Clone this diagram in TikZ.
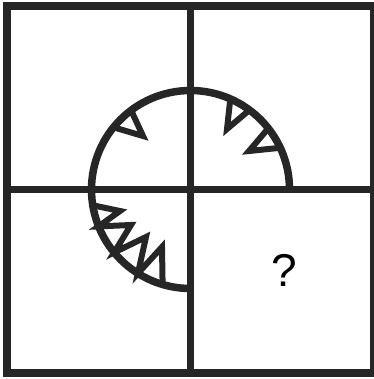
\documentclass[tikz,border=0pt]{standalone}
\usepackage{fontspec}
\setmainfont{Liberation Sans}
\begin{document}
\begin{tikzpicture}[x=1pt,y=-1pt]
\definecolor{ink}{RGB}{38,38,38}
\tikzset{frame/.style={draw=ink,line width=7.5pt},
         tri/.style={draw=ink,line width=6pt,line join=miter}}
\useasboundingbox (0,0) rectangle (373,379);
\draw[frame] (7,6) rectangle (374,373);
\draw[frame] (190.5,6) -- (190.5,373);
\draw[frame] (7,189.5) -- (374,189.5);
\draw[frame] (190.5,288.5) arc[start angle=90,end angle=360,radius=99];
% top-left triangle
\draw[tri] (113.5,127.3) -- (143,136) -- (131.1,110.3) -- cycle;
% top-right triangles
\draw[tri] (230.3,98.8) -- (227,129) -- (249.5,110.0) -- cycle;
\draw[tri] (268.3,128.3) -- (249,151) -- (280.3,147.8) -- cycle;
% bottom-left zigzag
\draw[tri] (92.8,205.3) -- (120,211) -- (98.6,226.4) -- (131,225) -- (114.1,252.5)
  -- (146,237) -- (137.9,273.4) -- (162,247) -- (162.6,284.5);
\node (q) at (284.5,270) {\fontsize{46}{46}\selectfont ?};
\end{tikzpicture}
\end{document}
